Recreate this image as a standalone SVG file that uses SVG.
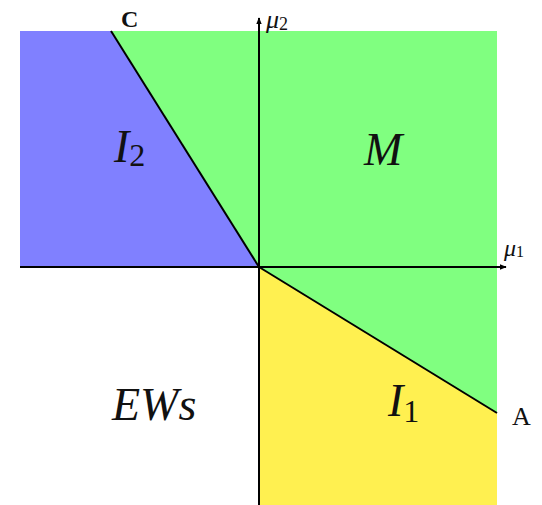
<svg xmlns="http://www.w3.org/2000/svg" width="542" height="505" viewBox="0 0 542 505">
<style>
.m{font-family:"Liberation Serif","DejaVu Serif",serif;font-style:italic;fill:#111}
.r{font-family:"Liberation Serif","DejaVu Serif",serif;fill:#111}
.ax{stroke:#000;stroke-width:2;fill:none}
.bd{stroke:#000;stroke-width:2;fill:none}
</style>
<defs>
<marker id="ar" viewBox="0 0 10 10" refX="9" refY="5" markerWidth="7" markerHeight="7" orient="auto" markerUnits="userSpaceOnUse">
<path d="M0,1 L10,5 L0,9 Z" fill="#000"/>
</marker>
</defs>
<g id="region-I2"><polygon points="20,31 111,31 259,267 20,267" fill="#8080ff"/></g>
<g id="region-M"><polygon points="111,31 497,31 497,413 259,267" fill="#80ff80"/></g>
<g id="region-I1"><polygon points="259,267 497,413 497,505 259,505" fill="#fff050"/></g>
<g id="connectors">
<line class="ax" x1="20" y1="267" x2="506" y2="267" marker-end="url(#ar)"/>
<line class="ax" x1="259" y1="505" x2="259" y2="18" marker-end="url(#ar)"/>
<line class="bd" x1="111" y1="31" x2="259" y2="267"/>
<line class="bd" x1="259" y1="267" x2="497" y2="413"/>
</g>
<g id="labels">
<text class="r" x="121" y="27" font-size="24" font-weight="bold">C</text>
<text class="m" x="266" y="28" font-size="26">μ<tspan font-style="normal" font-size="18" dy="2">2</tspan></text>
<text class="m" x="504" y="256" font-size="24">μ<tspan font-style="normal" font-size="16" dy="1">1</tspan></text>
<text class="r" x="512" y="425" font-size="26">A</text>
<text class="m" x="114" y="162" font-size="46">I<tspan font-style="normal" font-size="32" dy="4">2</tspan></text>
<text class="m" x="364" y="165" font-size="46">M</text>
<text class="m" x="112" y="420" font-size="46">EWs</text>
<text class="m" x="388" y="416" font-size="46">I<tspan font-style="normal" font-size="32" dy="6">1</tspan></text>
</g>
</svg>
